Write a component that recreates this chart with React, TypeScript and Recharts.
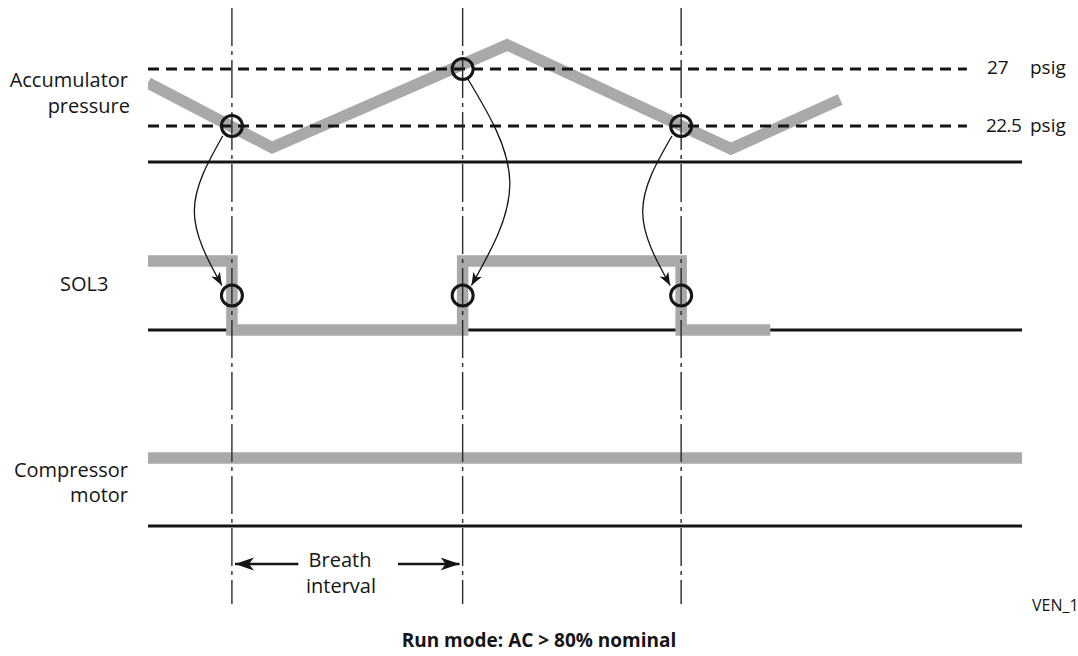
import React from "react";
import { ComposedChart, Line, XAxis, YAxis } from "recharts";

// time axis (arbitrary units, 0..100 across the plot)
const EVENT_T = [9.6, 36.0, 61.0];
const EVENT_PSIG = [22.5, 27, 22.5];

const PRESSURE_T = [0, 14.2, 41.1, 66.7, 79.2];
const PRESSURE_PSIG = [25.9, 20.8, 28.9, 20.7, 24.6];
const THRESHOLD_PSIG = [27, 22.5];
const THRESHOLD_END_T = 93.7;

const SOL3_T = [0, 9.6, 9.6, 36.0, 36.0, 61.0, 61.0, 71.2];
const SOL3_STATE = [1, 1, 0, 0, 1, 1, 0, 0];

const MOTOR_T = [0, 100];
const MOTOR_STATE = [1, 1];

// curved cause/effect arrows (offsets from each event, time units)
const ARROW_START_DT = [-1.05, 0.6, -1.05];
const ARROW_BOW_DT = [-4.3, 5.4, -4.4];
const ARROW_END_DT = [-1.15, 1.0, -1.25];

const BREATH_TAIL_T = [17.2, 28.6];

// lanes, in layout units (top-down)
const pressureY = (p: number) => 126 - (p - 22.5) * 12.67;
const sol3Y = (s: number) => 330 - s * 69;
const motorY = (s: number) => 526 - s * 68;
const LANE_FLOORS = [162, 330, 526];
const GUIDE_TOP = 8;
const GUIDE_BOTTOM = 604;
const BREATH_Y = 564;

const GRAY = "#a7a9ab";
const INK = "#151515";
const FONT = "'Open Sans', 'Noto Sans', sans-serif";

const pts = (ts: number[], ys: number[]) => ts.map((t, i) => ({ t, y: ys[i] }));

const pressureData = pts(PRESSURE_T, PRESSURE_PSIG.map(pressureY));
const sol3Data = pts(SOL3_T, SOL3_STATE.map(sol3Y));
const motorData = pts(MOTOR_T, MOTOR_STATE.map(motorY));
const circleData = [
  ...EVENT_T.map((t, i) => ({ t, y: pressureY(EVENT_PSIG[i]) })),
  ...EVENT_T.map((t) => ({ t, y: sol3Y(0.5) })),
];

export default function App() {
  return (
    <div style={{ position: "relative", width: 1078, height: 656, background: "#fff" }}>
      <style>{"body{margin:0}"}</style>
      <svg width={0} height={0} style={{ position: "absolute" }}>
        <defs>
          <marker id="arrowSmall" markerUnits="userSpaceOnUse" markerWidth={14} markerHeight={11} refX={13} refY={5} orient="auto">
            <path d="M0,0 L13,5 L0,10 L3.5,5 Z" fill={INK} />
          </marker>
          <marker id="arrowBig" markerUnits="userSpaceOnUse" markerWidth={20} markerHeight={14} refX={19} refY={6.5} orient="auto">
            <path d="M0,0 L19,6.5 L0,13 L5,6.5 Z" fill={INK} />
          </marker>
        </defs>
      </svg>

      <ComposedChart width={1078} height={656} margin={{ top: 0, right: 56, bottom: 0, left: 148 }}>
        <XAxis type="number" dataKey="t" domain={[0, 100]} hide allowDataOverflow />
        <YAxis type="number" domain={[0, 656]} reversed hide allowDataOverflow />

        {/* lane baselines */}
        {LANE_FLOORS.map((y, i) => (
          <Line key={`floor-${i}`} data={pts([0, 100], [y, y])} dataKey="y" stroke={INK} strokeWidth={2.8}
            dot={false} activeDot={false} isAnimationActive={false} />
        ))}

        {/* signals */}
        <Line data={pressureData} dataKey="y" stroke={GRAY} strokeWidth={11.5} strokeLinejoin="miter"
          dot={false} activeDot={false} isAnimationActive={false} />
        <Line data={sol3Data} dataKey="y" stroke={GRAY} strokeWidth={11.5} strokeLinejoin="miter"
          dot={false} activeDot={false} isAnimationActive={false} />
        <Line data={motorData} dataKey="y" stroke={GRAY} strokeWidth={11.5}
          dot={false} activeDot={false} isAnimationActive={false} />

        {/* pressure thresholds */}
        {THRESHOLD_PSIG.map((p) => (
          <Line key={`thr-${p}`} data={pts([0, THRESHOLD_END_T], [pressureY(p), pressureY(p)])} dataKey="y"
            stroke={INK} strokeWidth={3} strokeDasharray="11 7"
            dot={false} activeDot={false} isAnimationActive={false} />
        ))}

        {/* event guides */}
        {EVENT_T.map((t, i) => (
          <Line key={`guide-${i}`} data={pts([t, t], [GUIDE_TOP, GUIDE_BOTTOM])} dataKey="y"
            stroke="#2a2a2a" strokeWidth={1.4} strokeDasharray="38 5 4 5"
            dot={false} activeDot={false} isAnimationActive={false} />
        ))}

        {/* event circles */}
        <Line data={circleData} dataKey="y" stroke="none"
          dot={{ r: 10.5, fill: "none", stroke: INK, strokeWidth: 3 }}
          activeDot={false} isAnimationActive={false} />

        {/* curved arrows pressure -> SOL3 */}
        {EVENT_T.map((t, i) => {
          const y0 = pressureY(EVENT_PSIG[i]) + 10;
          const y1 = sol3Y(0.5) - 10;
          return (
            <Line key={`arc-${i}`} type="natural"
              data={pts([t + ARROW_START_DT[i], t + ARROW_BOW_DT[i], t + ARROW_END_DT[i]], [y0, (y0 + y1) / 2, y1])}
              dataKey="y" stroke={INK} strokeWidth={1.3} markerEnd="url(#arrowSmall)"
              dot={false} activeDot={false} isAnimationActive={false} />
          );
        })}

        {/* breath interval arrows */}
        <Line data={pts([BREATH_TAIL_T[0], EVENT_T[0] + 0.35], [BREATH_Y, BREATH_Y])} dataKey="y"
          stroke={INK} strokeWidth={2.6} markerEnd="url(#arrowBig)"
          dot={false} activeDot={false} isAnimationActive={false} />
        <Line data={pts([BREATH_TAIL_T[1], EVENT_T[1] - 0.35], [BREATH_Y, BREATH_Y])} dataKey="y"
          stroke={INK} strokeWidth={2.6} markerEnd="url(#arrowBig)"
          dot={false} activeDot={false} isAnimationActive={false} />
      </ComposedChart>

      <svg width={1078} height={656} style={{ position: "absolute", left: 0, top: 0, pointerEvents: "none" }}
        fontFamily={FONT} fill={INK}>
        <g fontSize={20}>
          <text x={128} y={87} textAnchor="end">Accumulator</text>
          <text x={130} y={113} textAnchor="end">pressure</text>
          <text x={60} y={291}>SOL3</text>
          <text x={128} y={477} textAnchor="end">Compressor</text>
          <text x={128} y={502} textAnchor="end">motor</text>
          <text x={340} y={567} textAnchor="middle">Breath</text>
          <text x={341} y={593} textAnchor="middle">interval</text>
        </g>
        <g fontSize={19}>
          <text x={987} y={74}>27</text>
          <text x={1030} y={74}>psig</text>
          <text x={986} y={132} letterSpacing={-0.6}>22.5</text>
          <text x={1030} y={132}>psig</text>
        </g>
        <text x={1032} y={611} fontSize={16}>VEN_1</text>
        <text x={539} y={647} fontSize={19} fontWeight="bold" textAnchor="middle">Run mode: AC &gt; 80% nominal</text>
      </svg>
    </div>
  );
}
